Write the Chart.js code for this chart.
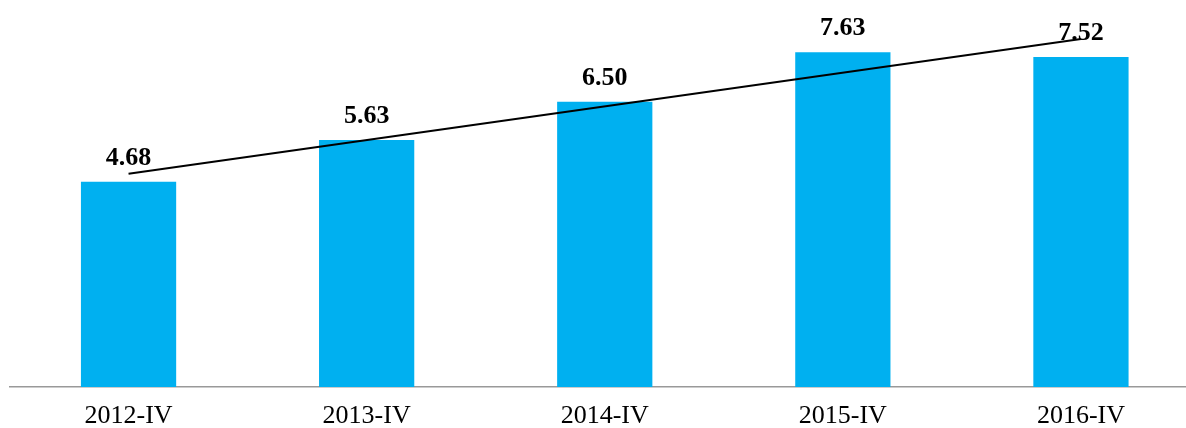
<!DOCTYPE html>
<html>
<head>
<meta charset="utf-8">
<script src="https://cdn.jsdelivr.net/npm/chart.js@4/dist/chart.umd.min.js"></script>
<style>
  html, body { margin: 0; padding: 0; background: #fff; overflow: hidden; }
  #wrap { width: 1200px; height: 428px; }
</style>
</head>
<body>
<div id="wrap"><canvas id="chart" width="1200" height="428"></canvas></div>
<script>
const categories = ['2012-IV', '2013-IV', '2014-IV', '2015-IV', '2016-IV']
const values = [4.68, 5.63, 6.50, 7.63, 7.52]
// trend line ends, middle points left open
const trendValues = [4.86, null, null, null, 7.93]

const barLabels = {
  id: 'barLabels',
  afterDatasetDraw(chart, args) {
    if (args.index !== 0) return
    const ctx = chart.ctx
    ctx.save()
    ctx.font = 'bold 26px "Liberation Serif", "Times New Roman", serif'
    ctx.fillStyle = '#000'
    ctx.textAlign = 'center'
    ctx.textBaseline = 'alphabetic'
    args.meta.data.forEach((bar, i) => {
      ctx.fillText(values[i].toFixed(2), bar.x, bar.y - 17)
    })
    ctx.restore()
  },
}

const chart = new Chart(document.getElementById('chart'), {
  type: 'bar',
  data: {
    labels: categories,
    datasets: [
      {
        data: values,
        backgroundColor: '#00B0F0',
        barPercentage: 0.4,
        categoryPercentage: 1,
        order: 1,
      },
      {
        type: 'line',
        data: trendValues,
        borderColor: '#000',
        borderWidth: 2,
        pointRadius: 0,
        tension: 0,
        spanGaps: true,
        fill: false,
        order: 0,
      },
    ],
  },
  options: {
    responsive: false,
    animation: false,
    layout: {
      padding: { left: 9.5, right: 0, top: 0, bottom: 0 },
    },
    plugins: {
      legend: { display: false },
      tooltip: { enabled: false },
    },
    scales: {
      x: {
        afterFit: (scale) => { scale.height = 41 },
        grid: { display: false, drawTicks: false },
        border: { display: true, color: '#999', width: 1.5 },
        ticks: {
          color: '#000',
          padding: 14,
          font: { family: '"Liberation Serif", "Times New Roman", serif', size: 26 },
        },
      },
      y: {
        display: false,
        min: 0,
        max: 8.82,
      },
    },
  },
  plugins: [barLabels],
})
</script>
</body>
</html>
